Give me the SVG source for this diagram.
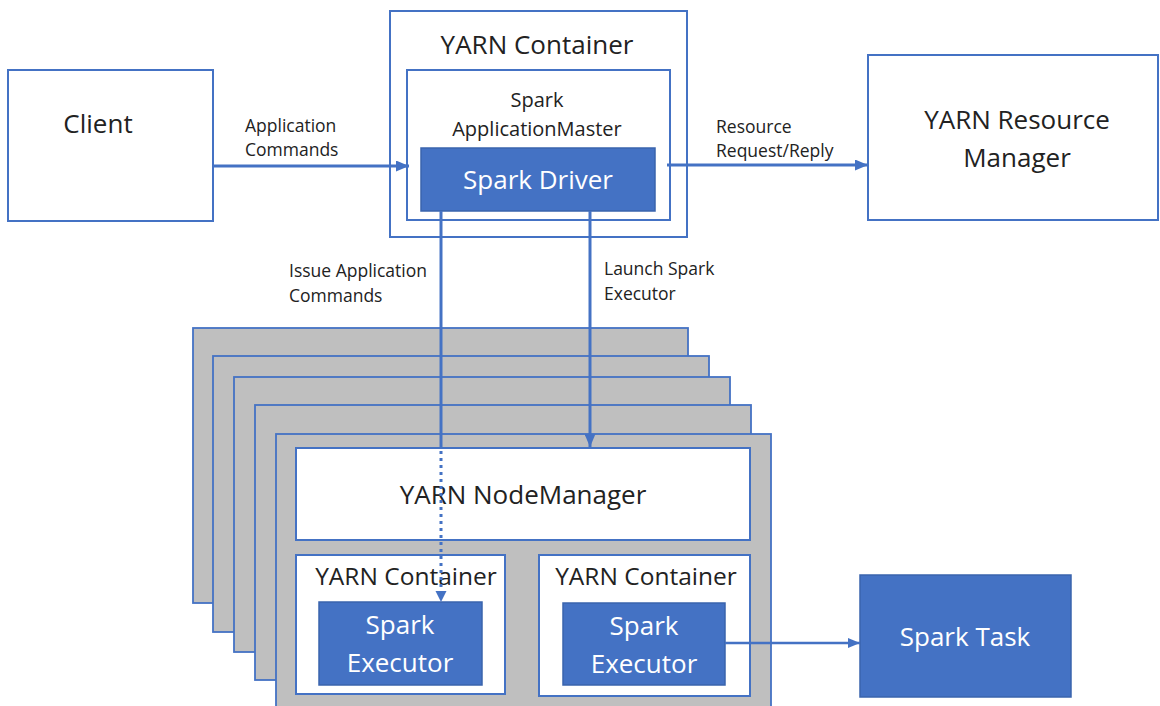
<svg xmlns="http://www.w3.org/2000/svg" width="1160" height="706" viewBox="0 0 1160 706">
<style>
  .box { fill: #ffffff; stroke: #4472C4; stroke-width: 2; }
  .frame { fill: #BFBFBF; stroke: #4472C4; stroke-width: 1.8; }
  .solid { fill: #4472C4; stroke: #3a64ad; stroke-width: 1.5; }
  .t { font-family: "Open Sans", "Liberation Sans", sans-serif; fill: #222222; }
  .big { font-size: 26px; text-anchor: middle; }
  .mid { font-size: 20px; text-anchor: middle; }
  .lbl { font-size: 17.5px; }
  .w { fill: #ffffff; }
  .conn { stroke: #4472C4; stroke-width: 3; fill: none; }
  .dot { stroke: #4472C4; stroke-width: 3; fill: none; stroke-dasharray: 3 4; }
</style>
<defs>
  <marker id="arrow" markerUnits="userSpaceOnUse" markerWidth="13" markerHeight="11" refX="13" refY="5.5" orient="auto">
    <path d="M0,0 L13,5.5 L0,11 z" fill="#4472C4"/>
  </marker>
  <marker id="arrowS" markerUnits="userSpaceOnUse" markerWidth="12" markerHeight="10" refX="12" refY="5" orient="auto">
    <path d="M0,0 L12,5 L0,10 z" fill="#4472C4"/>
  </marker>
</defs>
<rect width="1160" height="706" fill="#ffffff"/>

<g id="client">
  <rect class="box" x="8" y="70" width="205" height="151"/>
  <text class="t big" x="98" y="133">Client</text>
</g>

<g id="yarn-container-am">
  <rect class="box" x="390" y="11" width="297" height="226"/>
  <text class="t big" x="537" y="54">YARN Container</text>
  <rect class="box" x="407" y="70" width="263" height="150"/>
  <text class="t mid" x="537" y="107">Spark</text>
  <text class="t mid" x="537" y="136">ApplicationMaster</text>
</g>

<g id="spark-driver">
  <rect class="solid" x="421" y="148" width="234" height="63"/>
  <text class="t big w" x="538" y="189">Spark Driver</text>
</g>

<g id="resource-manager">
  <rect class="box" x="868" y="55" width="290" height="165"/>
  <text class="t big" x="1017" y="129">YARN Resource</text>
  <text class="t big" x="1017" y="167">Manager</text>
</g>

<g id="node-stack">
  <rect class="frame" x="193" y="328" width="495" height="275"/>
  <rect class="frame" x="213" y="356" width="496" height="276"/>
  <rect class="frame" x="234" y="377" width="496" height="275"/>
  <rect class="frame" x="255" y="405" width="496" height="275"/>
  <rect class="frame" x="276" y="434" width="495" height="276"/>
</g>

<g id="node-manager">
  <rect class="box" x="296" y="448" width="454" height="92"/>
  <text class="t big" x="523" y="504">YARN NodeManager</text>
</g>

<g id="container-1">
  <rect class="box" x="296" y="555" width="209" height="139"/>
  <text class="t big" x="406" y="585" style="font-size:24.5px">YARN Container</text>
</g>

<g id="executor-1">
  <rect class="solid" x="319" y="602" width="163" height="83"/>
  <text class="t big w" x="400" y="634">Spark</text>
  <text class="t big w" x="400" y="672">Executor</text>
</g>

<g id="container-2">
  <rect class="box" x="539" y="555" width="211" height="141"/>
  <text class="t big" x="646" y="585" style="font-size:24.5px">YARN Container</text>
</g>

<g id="executor-2">
  <rect class="solid" x="563" y="603" width="162" height="82"/>
  <text class="t big w" x="644" y="635">Spark</text>
  <text class="t big w" x="644" y="673">Executor</text>
</g>

<g id="spark-task">
  <rect class="solid" x="860" y="575" width="211" height="122"/>
  <text class="t big w" x="965" y="646">Spark Task</text>
</g>

<g id="connectors">
  <line class="conn" x1="213" y1="166" x2="409" y2="166" marker-end="url(#arrow)"/>
  <line class="conn" x1="667" y1="165" x2="868" y2="165" marker-end="url(#arrow)"/>
  <line class="conn" x1="441" y1="211" x2="441" y2="447"/>
  <line class="dot" x1="441" y1="451" x2="441" y2="592"/>
  <path d="M435.5,591 L446.5,591 L441,602 z" fill="#4472C4"/>
  <line class="conn" x1="590" y1="211" x2="590" y2="447" marker-end="url(#arrow)"/>
  <line class="conn" x1="725" y1="643" x2="860" y2="643" style="stroke-width:2.5" marker-end="url(#arrowS)"/>
</g>

<g id="labels">
  <text class="t lbl" x="245" y="132">Application</text>
  <text class="t lbl" x="245" y="156">Commands</text>
  <text class="t lbl" x="716" y="133">Resource</text>
  <text class="t lbl" x="716" y="157">Request/Reply</text>
  <text class="t lbl" x="289" y="277">Issue Application</text>
  <text class="t lbl" x="289" y="302">Commands</text>
  <text class="t lbl" x="604" y="275">Launch Spark</text>
  <text class="t lbl" x="604" y="300">Executor</text>
</g>
</svg>
